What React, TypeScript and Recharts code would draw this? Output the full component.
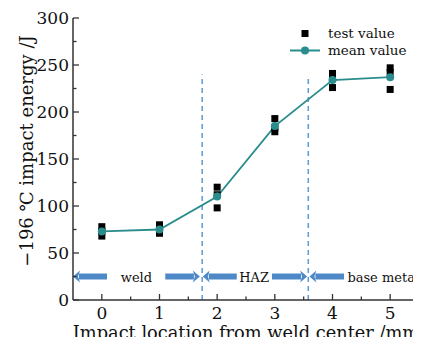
import React from "react";
import {
  ComposedChart,
  Line,
  Scatter,
  XAxis,
  YAxis,
  ReferenceLine,
  ReferenceDot,
} from "recharts";

// impact location (mm from weld centre)
const locations = [0, 1, 2, 3, 4, 5];
// mean impact energy at each location (J)
const meanValues = [73, 75, 110, 185, 234, 237];
// three individual test values per location (J)
const testValues = [
  [78, 73, 68],
  [80, 75, 71],
  [120, 112, 98],
  [193, 183, 179],
  [241, 236, 226],
  [247, 242, 224],
];

const xTicks = [0, 1, 2, 3, 4, 5];
const xMinorTicks = [0.5, 1.5, 2.5, 3.5, 4.5];
const yTicks = [0, 50, 100, 150, 200, 250, 300];
const yMinorTicks = [25, 75, 125, 175, 225, 275];

// zone boundaries (x) and the height their dashed lines reach (J)
const boundaries = [1.74, 3.58];
const boundaryTops = [240, 237];

// zone arrows along y = 25: [tail, head]
const zoneLevel = 25;
const zoneArrows = [
  [0.09, -0.5],
  [1.1, 1.7],
  [2.34, 1.75],
  [2.95, 3.56],
  [4.2, 3.6],
];
const zoneNames = ["weld", "HAZ", "base metal"];
const zoneNameX = [0.6, 2.64, 4.88];

const meanData = locations.map((x, i) => ({ x, y: meanValues[i] }));
const testData = locations.flatMap((x, i) => testValues[i].map((y) => ({ x, y })));

const FONT = "'DejaVu Serif', 'Liberation Serif', serif";
const TEAL = "#2a8c8c";
const ARROW = "#4f88c6";
const AXIS = "#333";

function XTick({ x, y, payload }: any) {
  const major = xTicks.includes(payload.value);
  return (
    <g>
      <line x1={x} x2={x} y1={y} y2={y - (major ? 6 : 3.5)} stroke={AXIS} strokeWidth={1.3} />
      {major && (
        <text x={x} y={y + 19} textAnchor="middle" fontSize={17} fontFamily={FONT} fill="#111">
          {payload.value}
        </text>
      )}
    </g>
  );
}

function YTick({ x, y, payload }: any) {
  const major = yTicks.includes(payload.value);
  return (
    <g>
      <line x1={x} x2={x + (major ? 6 : 3.5)} y1={y} y2={y} stroke={AXIS} strokeWidth={1.3} />
      {major && (
        <text x={x - 4} y={y} dy="0.36em" textAnchor="end" fontSize={17} fontFamily={FONT} fill="#111">
          {payload.value}
        </text>
      )}
    </g>
  );
}

function XLabel({ viewBox }: any) {
  return (
    <text
      x={viewBox.x + viewBox.width / 2}
      y={viewBox.y + 38.5}
      textAnchor="middle"
      fontSize={17.8}
      fontFamily={FONT}
      fill="#111"
    >
      Impact location from weld center /mm
    </text>
  );
}

function YLabel({ viewBox }: any) {
  const cx = viewBox.x + 33;
  const cy = viewBox.y + 133;
  return (
    <text
      x={cx}
      y={cy}
      transform={`rotate(-90, ${cx}, ${cy})`}
      textAnchor="middle"
      fontSize={18}
      fontFamily={FONT}
      fill="#111"
    >
      −196 ℃ impact energy /J
    </text>
  );
}

function ArrowShape({ x1, y1, x2, y2 }: any) {
  const dir = x2 > x1 ? 1 : -1;
  const headLen = 7;
  const base = x2 - dir * headLen;
  return (
    <g>
      <line x1={x1} y1={y1} x2={base + dir * 1} y2={y2} stroke={ARROW} strokeWidth={6} />
      <polygon points={`${x2},${y2} ${base},${y2 - 6} ${base + dir * 2},${y2} ${base},${y2 + 6}`} fill={ARROW} />
    </g>
  );
}

function SquareShape({ cx, cy }: any) {
  return <rect x={cx - 3.5} y={cy - 3.5} width={7} height={7} fill="#000" />;
}

function LegendBox() {
  const row: React.CSSProperties = { display: "flex", alignItems: "center", height: 17 };
  return (
    <div
      style={{
        position: "absolute",
        left: 290,
        top: 24.5,
        fontFamily: FONT,
        fontSize: 13.5,
        color: "#111",
        lineHeight: "17px",
        whiteSpace: "nowrap",
      }}
    >
      <div style={row}>
        <svg width={38} height={17}>
          <rect x={11.5} y={5} width={7} height={7} fill="#000" />
        </svg>
        <span>test value</span>
      </div>
      <div style={row}>
        <svg width={38} height={17}>
          <line x1={0} x2={30} y1={8.5} y2={8.5} stroke={TEAL} strokeWidth={2} />
          <circle cx={15} cy={8.5} r={4} fill={TEAL} />
        </svg>
        <span>mean value</span>
      </div>
    </div>
  );
}

export default function App() {
  return (
    <div style={{ position: "relative", width: 421, height: 345, margin: -8, background: "#fff", overflow: "hidden" }}>
      <ComposedChart width={421} height={345} margin={{ top: 18, right: 2, bottom: 0, left: 0 }}>
        <XAxis
          dataKey="x"
          type="number"
          domain={[-0.5, 5.5]}
          ticks={[...xTicks, ...xMinorTicks]}
          interval={0}
          tickSize={0}
          tickMargin={0}
          tick={<XTick />}
          height={45}
          axisLine={{ stroke: AXIS, strokeWidth: 1.5 }}
          label={<XLabel />}
        />
        <YAxis
          dataKey="y"
          type="number"
          domain={[0, 300]}
          ticks={[...yTicks, ...yMinorTicks]}
          interval={0}
          tickSize={0}
          tickMargin={0}
          tick={<YTick />}
          width={73}
          axisLine={{ stroke: AXIS, strokeWidth: 1.5 }}
          label={<YLabel />}
        />
        {boundaries.map((b, i) => (
          <ReferenceLine
            key={`b${i}`}
            segment={[
              { x: b, y: 0 },
              { x: b, y: boundaryTops[i] },
            ]}
            stroke="#5b9bd5"
            strokeWidth={1.5}
            strokeDasharray="5 4"
            ifOverflow="visible"
          />
        ))}
        {zoneArrows.map(([from, to], i) => (
          <ReferenceLine
            key={`a${i}`}
            segment={[
              { x: from, y: zoneLevel },
              { x: to, y: zoneLevel },
            ]}
            shape={<ArrowShape />}
            ifOverflow="visible"
          />
        ))}
        {zoneNames.map((name, i) => (
          <ReferenceDot
            key={`n${i}`}
            x={zoneNameX[i]}
            y={zoneLevel}
            ifOverflow="visible"
            shape={(p: any) => (
              <text x={p.cx} y={p.cy} dy={5} textAnchor="middle" fontSize={13} fontFamily={FONT} fill="#111">
                {name}
              </text>
            )}
          />
        ))}
        <Scatter data={testData} dataKey="y" shape={<SquareShape />} isAnimationActive={false} />
        <Line
          data={meanData}
          dataKey="y"
          stroke={TEAL}
          strokeWidth={1.8}
          dot={{ r: 4, fill: TEAL, stroke: TEAL, strokeWidth: 0 }}
          activeDot={false}
          isAnimationActive={false}
        />
      </ComposedChart>
      <LegendBox />
    </div>
  );
}
